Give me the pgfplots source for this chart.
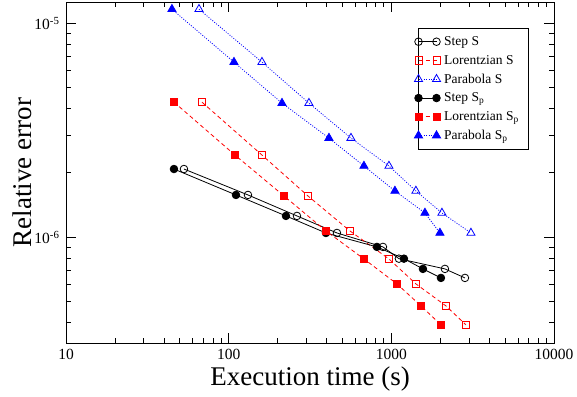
\documentclass[border=0pt]{standalone}
\usepackage{pgfplots}
\pgfplotsset{compat=1.18}
\usepackage{fontspec}
\setmainfont{Liberation Serif}
\begin{document}
\begin{tikzpicture}
\begin{loglogaxis}[
  name=ax,
  scale only axis, width=488pt, height=341pt,
  xmin=10, xmax=10000, ymin=3.2e-7, ymax=1.26e-5,
  xtick={10,100,1000,10000}, xticklabels={10,100,1000,10000},
  minor xtick={20,30,40,50,60,70,80,90,200,300,400,500,600,700,800,900,2000,3000,4000,5000,6000,7000,8000,9000},
  ytick={1e-6,1e-5}, yticklabels={10\textsuperscript{-6},10\textsuperscript{-5}},
  minor ytick={4e-7,5e-7,6e-7,7e-7,8e-7,9e-7,2e-6,3e-6,4e-6,5e-6,6e-6,7e-6,8e-6,9e-6},
  major tick length=10pt, minor tick length=5pt,
  tick align=inside,
  every tick/.style={black, line width=0.8pt},
  axis line style={line width=1pt},
  tick label style={font=\fontsize{15.5}{18}\selectfont},
  xticklabel shift=3pt, yticklabel shift=3pt,
  label style={font=\fontsize{27}{32}\selectfont},
  xlabel={Execution time (s)},
  ylabel={Relative error},
  xlabel style={at={(axis description cs:0.5,-0.1232)}, anchor=base},
  ylabel style={at={(axis description cs:-0.0697,0.5)}, anchor=base, rotate=0},
  legend style={at={(axis description cs:0.7207,0.925)}, anchor=north west,
    font=\fontsize{13.5}{15}\selectfont, draw=black, line width=0.8pt,
    inner xsep=5pt, inner ysep=6.5pt, row sep=4.2pt, nodes={inner xsep=0pt}},
  legend cell align=left,
  legend image code/.code={\draw[overlay] plot coordinates {(0pt,0pt) (18pt,0pt)}; \path (5pt,0pt) (25.3pt,0pt);},
]
\addplot[black, line width=0.8pt, mark=o, mark size=3.8pt, mark options={solid, line width=0.8pt}] coordinates {
(53.1,2.085e-6) (131.4,1.577e-6) (262.9,1.258e-6) (463.0,1.047e-6) (888.0,9.01e-7) (1113,7.94e-7) (2135,7.11e-7) (2835,6.452e-7)};
\addlegendentry{Step S}
\addplot[red, line width=0.8pt, dash pattern=on 4pt off 3pt, mark=square, mark size=3.6pt, mark options={solid, line width=0.8pt}] coordinates {
(68.5,4.286e-6) (160.2,2.424e-6) (307.2,1.560e-6) (556.7,1.070e-6) (966.7,7.915e-7) (1416,6.050e-7) (2165,4.775e-7) (2875,3.892e-7)};
\addlegendentry{Lorentzian S}
\addplot[blue, line width=0.8pt, dash pattern=on 1pt off 1.5pt, mark=triangle, mark size=4.7pt, mark options={solid, line width=0.8pt}] coordinates {
(65.7,1.166e-5) (160.2,6.595e-6) (311.5,4.241e-6) (564.7,2.911e-6) (966.7,2.154e-6) (1416,1.646e-6) (2047,1.299e-6) (3086,1.047e-6)};
\addlegendentry{Parabola S}
\addplot[black, line width=0.8pt, mark=*, mark size=3.8pt, mark options={solid, fill=black}] coordinates {
(46.1,2.085e-6) (110.9,1.577e-6) (225.0,1.258e-6) (396.3,1.047e-6) (815.6,9.01e-7) (1195,7.94e-7) (1564,7.11e-7) (2018,6.452e-7)};
\addlegendentry{Step S\textsubscript{p}}
\addplot[red, line width=0.8pt, dash pattern=on 4pt off 3pt, mark=square*, mark size=3.6pt, mark options={solid, fill=red}] coordinates {
(46.1,4.286e-6) (109.3,2.424e-6) (218.8,1.560e-6) (396.3,1.070e-6) (678.5,7.915e-7) (1082,6.050e-7) (1520,4.775e-7) (2018,3.892e-7)};
\addlegendentry{Lorentzian S\textsubscript{p}\hspace*{5pt}}
\addplot[blue, line width=0.8pt, dash pattern=on 1pt off 1.5pt, mark=triangle*, mark size=4.7pt, mark options={solid, fill=blue}] coordinates {
(44.8,1.166e-5) (107.8,6.595e-6) (212.7,4.241e-6) (413.5,2.911e-6) (678.5,2.154e-6) (1052,1.646e-6) (1609,1.299e-6) (1990,1.047e-6)};
\addlegendentry{Parabola S\textsubscript{p}}
\end{loglogaxis}
\pgfresetboundingbox
\path[use as bounding box] ([shift={(-66pt,-53pt)}]ax.south west) rectangle ([shift={(23pt,2pt)}]ax.north east);
\end{tikzpicture}
\end{document}
